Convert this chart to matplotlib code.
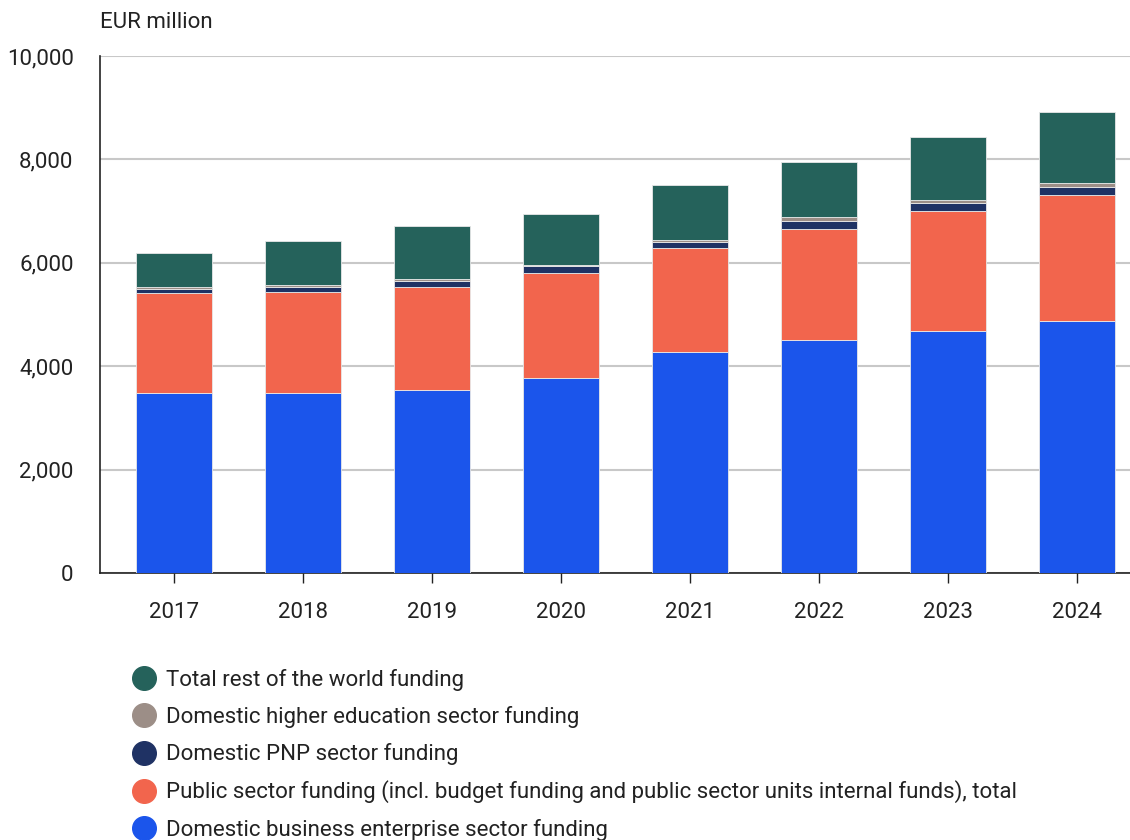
import matplotlib
matplotlib.use("Agg")
import matplotlib.pyplot as plt
from matplotlib.lines import Line2D
import numpy as np

plt.rcParams['font.family'] = ['Roboto', 'DejaVu Sans']

years = ["2017", "2018", "2019", "2020", "2021", "2022", "2023", "2024"]
business = [3485, 3485, 3545, 3777, 4274, 4506, 4680, 4874]
public = [1925, 1955, 1986, 2031, 2012, 2153, 2315, 2437]
pnp = [83, 91, 116, 135, 109, 149, 161, 160]
higher_ed = [38, 33, 39, 23, 39, 71, 58, 65]
rest_world = [652, 857, 1025, 977, 1064, 1064, 1224, 1374]

series = [
    ("Domestic business enterprise sector funding", business, "#1B55EB"),
    ("Public sector funding (incl. budget funding and public sector units internal funds), total", public, "#F2654D"),
    ("Domestic PNP sector funding", pnp, "#1F3264"),
    ("Domestic higher education sector funding", higher_ed, "#9C8E87"),
    ("Total rest of the world funding", rest_world, "#25625B"),
]

fig = plt.figure(figsize=(11.3, 8.4), dpi=100)
ax = fig.add_axes([100/1130, 1-573/840, 1030/1130, (573-56)/840])

x = np.arange(len(years))
bottom = np.zeros(len(years))
for label, vals, color in series:
    ax.bar(x, vals, bottom=bottom, width=0.59, color=color, edgecolor="#e8e8e8",
           linewidth=0.6, zorder=3)
    bottom += np.array(vals)

ax.set_xlim(-0.574, 7.41)
ax.set_ylim(0, 10000)
ax.set_yticks(range(0, 10001, 2000))
ax.set_yticklabels([f"{v:,}" for v in range(0, 10001, 2000)], fontsize=16, color="#222222")
ax.set_xticks(x)
ax.set_xticklabels(years, fontsize=16, color="#222222")
ax.tick_params(axis='y', length=0, pad=19)
ax.tick_params(axis='x', length=7, width=1, color="#222222", pad=14)
ax.grid(axis='y', color="#c8c8c8", linewidth=1.5, zorder=0)
for s in ["top", "right"]:
    ax.spines[s].set_visible(False)
ax.spines["left"].set_color("#222222")
ax.spines["bottom"].set_color("#222222")
ax.spines["left"].set_linewidth(1.2)
ax.spines["bottom"].set_linewidth(1.2)

fig.text(100/1130, 1-22/840, "EUR million", fontsize=16, color="#222222", va="center", ha="left")

handles = [Line2D([0], [0], marker='o', linestyle='none', markersize=17,
                  markerfacecolor=c, markeredgecolor=c) for _, _, c in series[::-1]]
labels = [l for l, _, _ in series[::-1]]
fig.legend(handles, labels, loc="upper left", bbox_to_anchor=(116/1130, 1-658/840),
           frameon=False, fontsize=16, handletextpad=0.25, labelspacing=0.68,
           handlelength=1.5, borderpad=0, labelcolor="#222222")

fig.savefig("out.png", dpi=100)
